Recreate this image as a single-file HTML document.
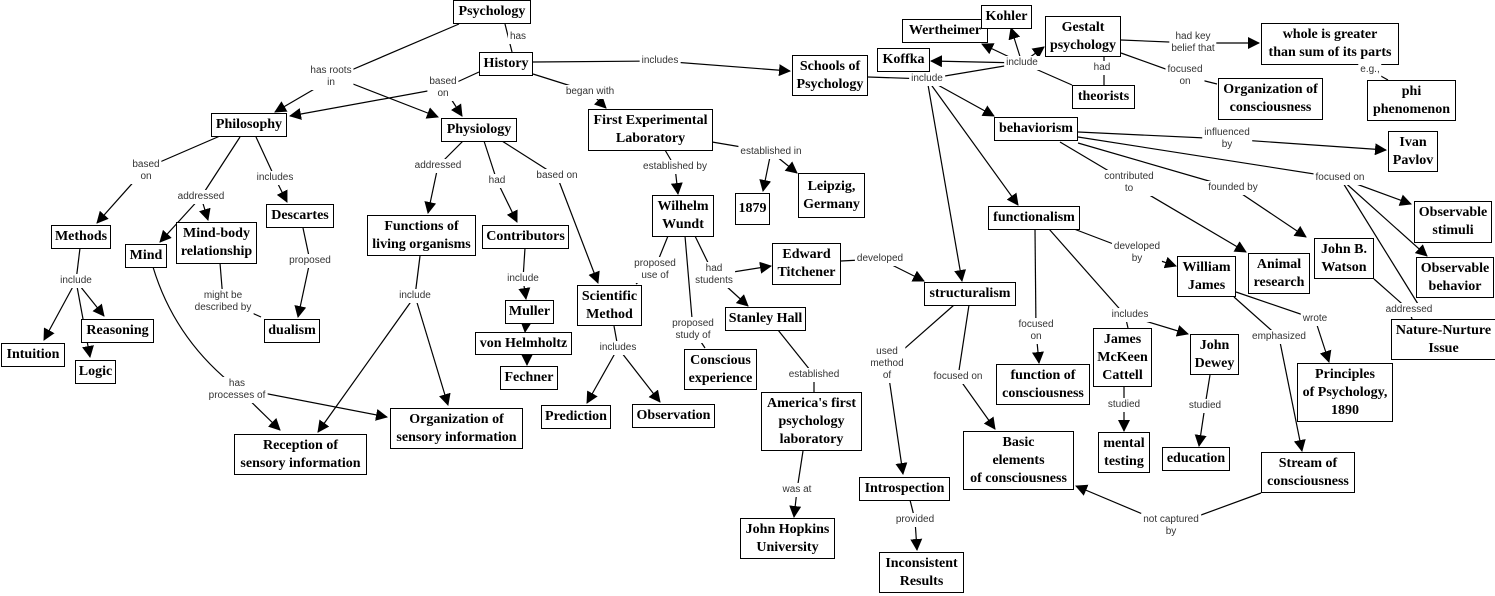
<!DOCTYPE html>
<html><head><meta charset="utf-8">
<style>
html,body{margin:0;padding:0;background:#fff;}
#c{position:relative;width:1495px;height:596px;overflow:hidden;background:#fff;}
svg{position:absolute;left:0;top:0;}
.b{position:absolute;box-sizing:border-box;border:1.5px solid #000;background:#fff;display:flex;align-items:center;justify-content:center;text-align:center;font-family:"Liberation Serif",serif;font-weight:bold;font-size:14px;line-height:18px;color:#000;white-space:nowrap;}
.l{position:absolute;transform:translate(-50%,-50%);font-family:"Liberation Sans",sans-serif;font-size:10px;line-height:12px;color:#333;background:#fff;padding:1px 2px;text-align:center;white-space:nowrap;}
</style></head><body><div id="c">
<svg width="1495" height="596" viewBox="0 0 1495 596">
<defs><marker id="a" markerWidth="12" markerHeight="12" refX="11" refY="6" orient="auto" markerUnits="userSpaceOnUse"><path d="M0,0 L12,6 L0,12 z" fill="#000"/></marker></defs>
<g stroke="#000" stroke-width="1.2" fill="none">
<path d="M459,24 L335,77"/><path d="M335,77 L275,112" marker-end="url(#a)"/><path d="M335,77 L438,117" marker-end="url(#a)"/>
<path d="M505,24 L512,52"/>
<path d="M479,72 L444,88"/><path d="M444,88 L290,116" marker-end="url(#a)"/><path d="M444,88 L462,116" marker-end="url(#a)"/>
<path d="M533,62 L660,61"/><path d="M660,61 L790,71" marker-end="url(#a)"/>
<path d="M533,74 L590,92"/><path d="M590,92 L606,108" marker-end="url(#a)"/>
<path d="M220,136 L146,168"/><path d="M146,168 L97,223" marker-end="url(#a)"/>
<path d="M240,137 L201,197"/><path d="M201,197 L160,242" marker-end="url(#a)"/><path d="M201,197 L208,220" marker-end="url(#a)"/>
<path d="M256,137 L275,178"/><path d="M275,178 L287,202" marker-end="url(#a)"/>
<path d="M303,228 L310,261"/><path d="M310,261 L298,317" marker-end="url(#a)"/>
<path d="M80,248 L76,281"/><path d="M76,281 L44,340" marker-end="url(#a)"/><path d="M76,281 L104,316" marker-end="url(#a)"/><path d="M76,281 L90,357" marker-end="url(#a)"/>
<path d="M220,263 L223,300"/><path d="M223,300 L261,317"/>
<path d="M153,267 Q175,340 237,388"/><path d="M237,388 L280,430" marker-end="url(#a)"/><path d="M237,388 L387,417" marker-end="url(#a)"/>
<path d="M463,141 L438,166"/><path d="M438,166 L428,213" marker-end="url(#a)"/>
<path d="M484,141 L497,181"/><path d="M497,181 L517,222" marker-end="url(#a)"/>
<path d="M502,141 L557,176"/><path d="M557,176 L598,283" marker-end="url(#a)"/>
<path d="M420,256 L415,296"/><path d="M415,296 L318,432" marker-end="url(#a)"/><path d="M415,296 L448,405" marker-end="url(#a)"/>
<path d="M525,248 L523,279"/><path d="M523,279 L526,299" marker-end="url(#a)"/>
<path d="M526,323 L525,332" marker-end="url(#a)"/><path d="M527,354 L527,365" marker-end="url(#a)"/>
<path d="M614,326 L618,348"/><path d="M618,348 L587,403" marker-end="url(#a)"/><path d="M618,348 L660,402" marker-end="url(#a)"/>
<path d="M665,150 L675,167"/><path d="M675,167 L678,194" marker-end="url(#a)"/>
<path d="M712,142 L771,152"/><path d="M771,152 L763,191" marker-end="url(#a)"/><path d="M771,152 L797,173" marker-end="url(#a)"/>
<path d="M668,236 L655,268"/><path d="M655,268 L636,284"/>
<path d="M695,236 L714,275"/><path d="M714,275 L771,266" marker-end="url(#a)"/><path d="M714,275 L748,306" marker-end="url(#a)"/>
<path d="M685,236 L693,330"/><path d="M693,330 L705,348"/>
<path d="M778,330 L814,375"/><path d="M814,375 L814,392"/>
<path d="M803,451 L797,490"/><path d="M797,490 L794,517" marker-end="url(#a)"/>
<path d="M841,261 L880,259"/><path d="M880,259 L924,281" marker-end="url(#a)"/>
<path d="M868,77 L927,79"/><path d="M927,79 L994,116" marker-end="url(#a)"/><path d="M927,79 L1018,205" marker-end="url(#a)"/><path d="M927,79 L962,281" marker-end="url(#a)"/>
<path d="M927,79 L1022,63"/><path d="M1022,63 L1072,85"/>
<path d="M1022,63 L931,61" marker-end="url(#a)"/><path d="M1022,63 L982,44" marker-end="url(#a)"/><path d="M1022,63 L1011,28" marker-end="url(#a)"/><path d="M1022,63 L1044,47" marker-end="url(#a)"/>
<path d="M1104,57 L1104,85"/>
<path d="M1121,40 L1193,43"/><path d="M1193,43 L1259,43" marker-end="url(#a)"/>
<path d="M1121,53 L1185,76"/><path d="M1185,76 L1217,84"/>
<path d="M1369,64 L1370,70"/><path d="M1370,70 L1388,80"/>
<path d="M1078,132 L1227,139"/><path d="M1227,139 L1386,150" marker-end="url(#a)"/>
<path d="M1060,142 L1129,183"/><path d="M1129,183 L1246,252" marker-end="url(#a)"/>
<path d="M1078,143 L1233,188"/><path d="M1233,188 L1306,237" marker-end="url(#a)"/>
<path d="M1078,137 L1340,178"/><path d="M1340,178 L1411,204" marker-end="url(#a)"/><path d="M1340,178 L1427,256" marker-end="url(#a)"/><path d="M1340,178 L1418,304"/>
<path d="M1074,229 L1137,253"/><path d="M1137,253 L1176,266" marker-end="url(#a)"/>
<path d="M1035,229 L1036,331"/><path d="M1036,331 L1039,363" marker-end="url(#a)"/>
<path d="M1049,229 L1125,315"/><path d="M1125,315 L1128,328"/><path d="M1125,315 L1188,334" marker-end="url(#a)"/>
<path d="M1124,387 L1124,405"/><path d="M1124,405 L1124,431" marker-end="url(#a)"/>
<path d="M1210,375 L1205,406"/><path d="M1205,406 L1199,446" marker-end="url(#a)"/>
<path d="M1236,292 L1315,319"/><path d="M1315,319 L1329,362" marker-end="url(#a)"/>
<path d="M1234,297 L1279,337"/><path d="M1279,337 L1302,451" marker-end="url(#a)"/>
<path d="M1374,279 L1409,310"/><path d="M1409,310 L1412,319"/>
<path d="M1261,493 L1171,526"/><path d="M1171,526 L1076,486" marker-end="url(#a)"/>
<path d="M954,305 L887,364"/><path d="M887,364 L903,474" marker-end="url(#a)"/>
<path d="M969,305 L958,377"/><path d="M958,377 L995,429" marker-end="url(#a)"/>
<path d="M910,500 L915,520"/><path d="M915,520 L917,550" marker-end="url(#a)"/>
</g></svg>

<div class="b" style="left:453px;top:0px;width:78px;height:24px">Psychology</div>
<div class="b" style="left:479px;top:52px;width:54px;height:24px">History</div>
<div class="b" style="left:792px;top:55px;width:76px;height:41px">Schools of<br>Psychology</div>
<div class="b" style="left:211px;top:113px;width:76px;height:24px">Philosophy</div>
<div class="b" style="left:441px;top:118px;width:76px;height:24px">Physiology</div>
<div class="b" style="left:588px;top:109px;width:125px;height:42px">First Experimental<br>Laboratory</div>
<div class="b" style="left:652px;top:195px;width:62px;height:42px">Wilhelm<br>Wundt</div>
<div class="b" style="left:735px;top:193px;width:35px;height:32px">1879</div>
<div class="b" style="left:798px;top:173px;width:67px;height:45px">Leipzig,<br>Germany</div>
<div class="b" style="left:902px;top:19px;width:86px;height:24px">Wertheimer</div>
<div class="b" style="left:981px;top:5px;width:51px;height:24px">Kohler</div>
<div class="b" style="left:1045px;top:16px;width:76px;height:41px">Gestalt<br>psychology</div>
<div class="b" style="left:877px;top:48px;width:53px;height:24px">Koffka</div>
<div class="b" style="left:1261px;top:23px;width:138px;height:42px">whole is greater<br>than sum of its parts</div>
<div class="b" style="left:1072px;top:85px;width:63px;height:24px">theorists</div>
<div class="b" style="left:1218px;top:78px;width:105px;height:42px">Organization of<br>consciousness</div>
<div class="b" style="left:1367px;top:80px;width:89px;height:41px">phi<br>phenomenon</div>
<div class="b" style="left:994px;top:117px;width:84px;height:24px">behaviorism</div>
<div class="b" style="left:1388px;top:131px;width:50px;height:41px">Ivan<br>Pavlov</div>
<div class="b" style="left:988px;top:206px;width:92px;height:24px">functionalism</div>
<div class="b" style="left:1414px;top:201px;width:78px;height:42px">Observable<br>stimuli</div>
<div class="b" style="left:1416px;top:257px;width:78px;height:41px">Observable<br>behavior</div>
<div class="b" style="left:1314px;top:238px;width:60px;height:41px">John B.<br>Watson</div>
<div class="b" style="left:1248px;top:253px;width:62px;height:41px">Animal<br>research</div>
<div class="b" style="left:1177px;top:256px;width:59px;height:41px">William<br>James</div>
<div class="b" style="left:772px;top:243px;width:69px;height:42px">Edward<br>Titchener</div>
<div class="b" style="left:924px;top:282px;width:92px;height:24px">structuralism</div>
<div class="b" style="left:51px;top:225px;width:60px;height:24px">Methods</div>
<div class="b" style="left:125px;top:244px;width:42px;height:24px">Mind</div>
<div class="b" style="left:176px;top:222px;width:81px;height:42px">Mind-body<br>relationship</div>
<div class="b" style="left:266px;top:204px;width:68px;height:24px">Descartes</div>
<div class="b" style="left:367px;top:215px;width:109px;height:41px">Functions of<br>living organisms</div>
<div class="b" style="left:482px;top:225px;width:87px;height:24px">Contributors</div>
<div class="b" style="left:577px;top:285px;width:65px;height:41px">Scientific<br>Method</div>
<div class="b" style="left:505px;top:300px;width:49px;height:24px">Muller</div>
<div class="b" style="left:475px;top:332px;width:97px;height:23px">von Helmholtz</div>
<div class="b" style="left:500px;top:366px;width:58px;height:24px">Fechner</div>
<div class="b" style="left:81px;top:319px;width:73px;height:24px">Reasoning</div>
<div class="b" style="left:1px;top:343px;width:64px;height:24px">Intuition</div>
<div class="b" style="left:75px;top:360px;width:41px;height:24px">Logic</div>
<div class="b" style="left:264px;top:319px;width:56px;height:24px">dualism</div>
<div class="b" style="left:234px;top:434px;width:133px;height:41px">Reception of<br>sensory information</div>
<div class="b" style="left:390px;top:408px;width:133px;height:41px">Organization of<br>sensory information</div>
<div class="b" style="left:541px;top:405px;width:70px;height:24px">Prediction</div>
<div class="b" style="left:632px;top:404px;width:83px;height:24px">Observation</div>
<div class="b" style="left:684px;top:349px;width:73px;height:41px">Conscious<br>experience</div>
<div class="b" style="left:725px;top:307px;width:81px;height:24px">Stanley Hall</div>
<div class="b" style="left:761px;top:392px;width:101px;height:59px">America's first<br>psychology<br>laboratory</div>
<div class="b" style="left:740px;top:518px;width:95px;height:41px">John Hopkins<br>University</div>
<div class="b" style="left:859px;top:477px;width:91px;height:24px">Introspection</div>
<div class="b" style="left:879px;top:552px;width:85px;height:41px">Inconsistent<br>Results</div>
<div class="b" style="left:963px;top:431px;width:111px;height:59px">Basic<br>elements<br>of consciousness</div>
<div class="b" style="left:996px;top:364px;width:94px;height:41px">function of<br>consciousness</div>
<div class="b" style="left:1093px;top:328px;width:59px;height:59px">James<br>McKeen<br>Cattell</div>
<div class="b" style="left:1190px;top:334px;width:49px;height:41px">John<br>Dewey</div>
<div class="b" style="left:1098px;top:432px;width:52px;height:41px">mental<br>testing</div>
<div class="b" style="left:1162px;top:447px;width:68px;height:24px">education</div>
<div class="b" style="left:1261px;top:452px;width:94px;height:41px">Stream of<br>consciousness</div>
<div class="b" style="left:1297px;top:363px;width:96px;height:59px">Principles<br>of Psychology,<br>1890</div>
<div class="b" style="left:1391px;top:319px;width:105px;height:41px">Nature-Nurture<br>Issue</div>

<div class="l" style="left:331px;top:77px">has roots<br>in</div>
<div class="l" style="left:518px;top:37px">has</div>
<div class="l" style="left:443px;top:88px">based<br>on</div>
<div class="l" style="left:660px;top:61px">includes</div>
<div class="l" style="left:590px;top:92px">began with</div>
<div class="l" style="left:146px;top:171px">based<br>on</div>
<div class="l" style="left:201px;top:197px">addressed</div>
<div class="l" style="left:275px;top:178px">includes</div>
<div class="l" style="left:310px;top:261px">proposed</div>
<div class="l" style="left:76px;top:281px">include</div>
<div class="l" style="left:223px;top:302px">might be<br>described by</div>
<div class="l" style="left:237px;top:390px">has<br>processes of</div>
<div class="l" style="left:438px;top:166px">addressed</div>
<div class="l" style="left:497px;top:181px">had</div>
<div class="l" style="left:557px;top:176px">based on</div>
<div class="l" style="left:415px;top:296px">include</div>
<div class="l" style="left:523px;top:279px">include</div>
<div class="l" style="left:618px;top:348px">includes</div>
<div class="l" style="left:675px;top:167px">established by</div>
<div class="l" style="left:771px;top:152px">established in</div>
<div class="l" style="left:655px;top:270px">proposed<br>use of</div>
<div class="l" style="left:714px;top:275px">had<br>students</div>
<div class="l" style="left:693px;top:330px">proposed<br>study of</div>
<div class="l" style="left:814px;top:375px">established</div>
<div class="l" style="left:797px;top:490px">was at</div>
<div class="l" style="left:880px;top:259px">developed</div>
<div class="l" style="left:927px;top:79px">include</div>
<div class="l" style="left:1022px;top:63px">include</div>
<div class="l" style="left:1102px;top:68px">had</div>
<div class="l" style="left:1193px;top:43px">had key<br>belief that</div>
<div class="l" style="left:1185px;top:76px">focused<br>on</div>
<div class="l" style="left:1370px;top:70px">e.g.,</div>
<div class="l" style="left:1227px;top:139px">influenced<br>by</div>
<div class="l" style="left:1129px;top:183px">contributed<br>to</div>
<div class="l" style="left:1233px;top:188px">founded by</div>
<div class="l" style="left:1340px;top:178px">focused on</div>
<div class="l" style="left:1137px;top:253px">developed<br>by</div>
<div class="l" style="left:1036px;top:331px">focused<br>on</div>
<div class="l" style="left:1130px;top:315px">includes</div>
<div class="l" style="left:1124px;top:405px">studied</div>
<div class="l" style="left:1205px;top:406px">studied</div>
<div class="l" style="left:1315px;top:319px">wrote</div>
<div class="l" style="left:1279px;top:337px">emphasized</div>
<div class="l" style="left:1409px;top:310px">addressed</div>
<div class="l" style="left:1171px;top:526px">not captured<br>by</div>
<div class="l" style="left:887px;top:364px">used<br>method<br>of</div>
<div class="l" style="left:958px;top:377px">focused on</div>
<div class="l" style="left:915px;top:520px">provided</div>
</div></body></html>
